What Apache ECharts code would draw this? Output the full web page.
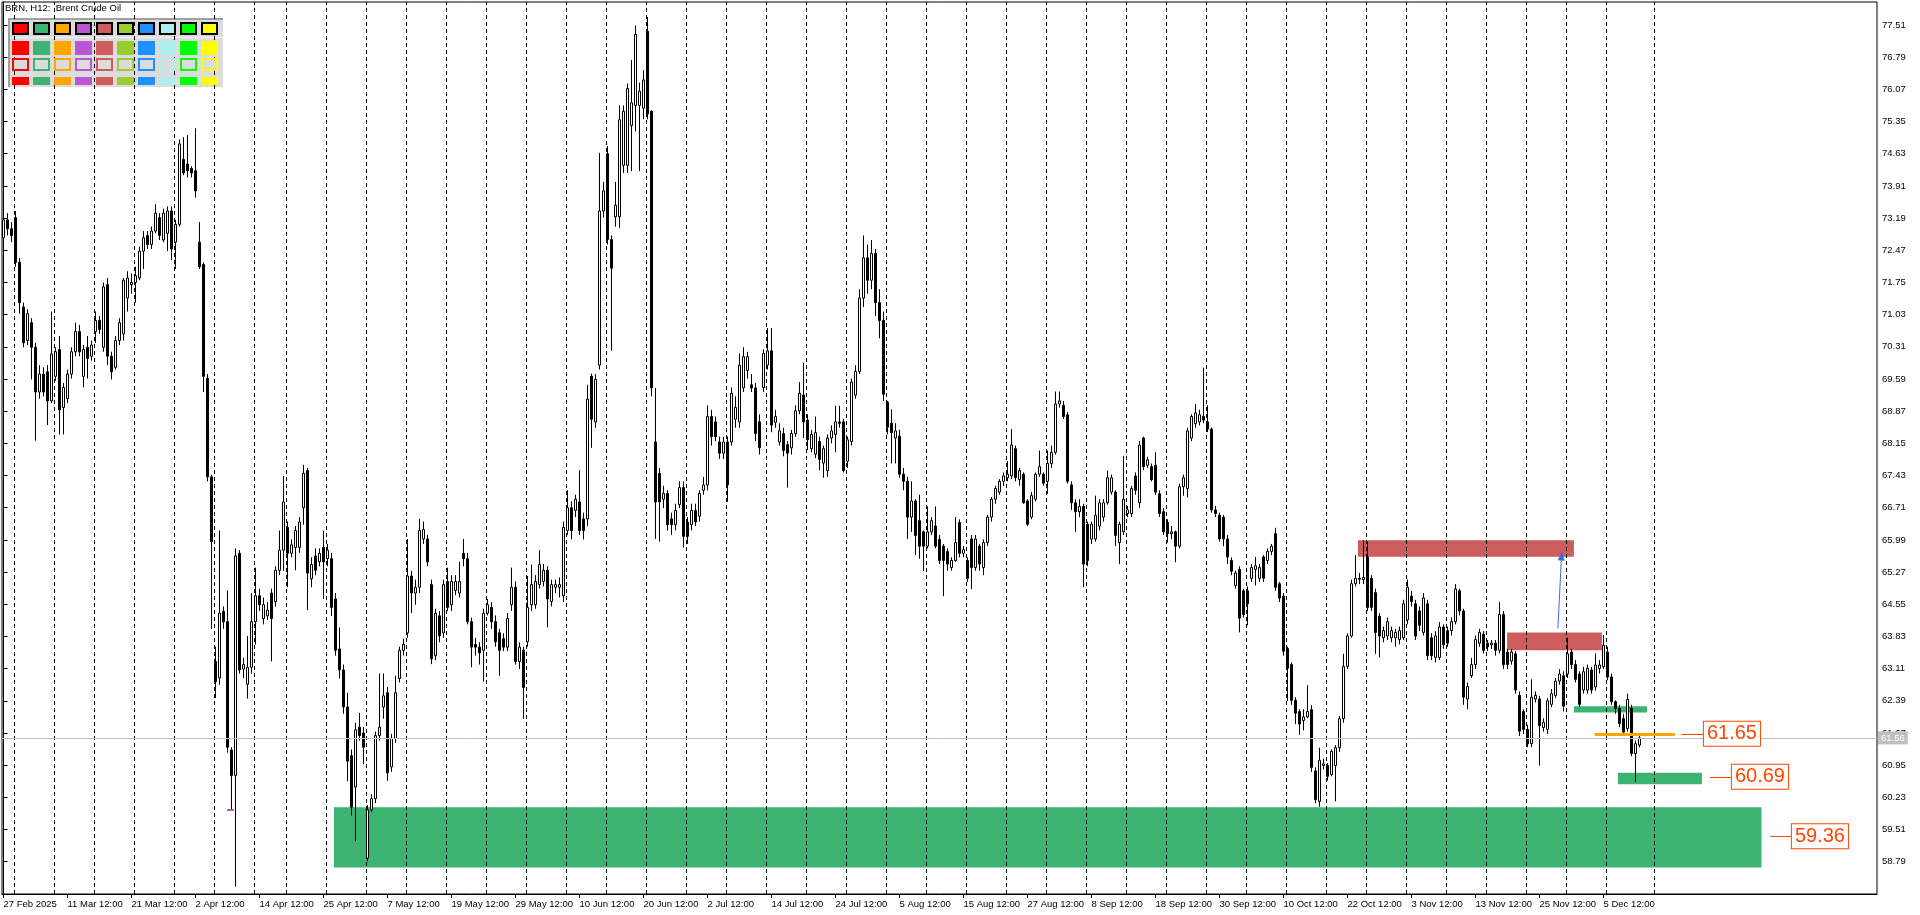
<!DOCTYPE html>
<html><head><meta charset="utf-8">
<script src="https://cdn.jsdelivr.net/npm/echarts@6/dist/echarts.min.js"></script>
<style>html,body{margin:0;padding:0;background:#fff}#c{width:1920px;height:915px}</style>
</head><body><div id="c"></div>
<script>
// Brent Crude Oil, H12 — one row per bar: [open, close, low, high]
const candles = [
[72.75,73.15,72.60,73.30],[73.15,72.95,72.80,73.30],[72.95,72.80,72.65,73.10],[73.20,72.20,72.10,73.35],[72.20,71.30,71.05,72.30],
[71.20,70.40,70.30,71.30],[70.45,71.05,70.35,71.15],[70.85,70.30,69.58,70.95],[70.30,69.30,68.21,70.40],[69.30,69.70,69.15,69.90],
[69.70,69.30,69.20,69.85],[69.75,69.10,68.56,69.90],[69.10,70.15,69.05,71.10],[69.65,70.20,69.55,70.30],[70.25,68.90,68.35,70.55],
[68.95,69.40,68.35,69.50],[69.15,69.70,69.05,69.80],[69.70,70.20,69.60,70.30],[70.20,70.65,70.10,70.85],[70.65,70.20,70.10,70.80],
[69.65,70.25,69.40,70.35],[70.30,70.05,69.60,70.55],[70.10,70.35,70.00,70.45],[70.65,70.90,70.40,71.10],[70.90,70.70,70.60,71.00],
[70.30,71.65,70.20,71.75],[71.70,70.10,69.90,71.85],[70.10,69.75,69.58,70.20],[69.85,70.45,69.80,70.55],[70.45,70.85,70.35,70.95],
[70.60,71.80,70.45,71.85],[71.40,71.85,71.10,72.00],[71.70,71.75,71.50,71.95],[71.75,71.90,71.30,72.10],[71.85,72.45,71.80,72.55],
[72.45,72.75,72.05,72.90],[72.80,72.60,72.50,72.90],[72.60,72.90,72.50,73.00],[72.90,73.30,72.85,73.50],[73.20,72.80,72.70,73.30],
[72.70,73.30,72.65,73.40],[72.85,73.35,72.45,73.45],[73.35,72.50,72.25,73.45],[72.65,73.05,72.05,73.15],[73.05,74.85,73.00,74.95],
[74.50,74.20,74.15,75.00],[74.40,74.25,74.10,75.05],[74.30,74.20,74.10,74.35],[74.25,73.80,73.65,75.20],[72.65,72.10,72.05,73.10],
[72.15,69.65,69.30,72.20],[69.60,67.40,67.30,69.70],[67.40,65.95,64.00,67.45],[63.27,62.82,62.45,63.60],[62.90,64.35,62.75,66.20],
[64.39,64.16,64.00,64.50],[64.16,61.35,61.23,64.86],[61.29,60.72,59.95,61.35],[60.72,65.63,58.23,65.80],[65.69,63.08,63.00,65.76],
[63.10,63.20,62.90,63.35],[62.76,63.14,62.44,63.84],[63.14,64.16,63.00,64.80],[64.16,64.74,63.65,65.37],[64.74,64.54,64.40,64.90],
[64.23,64.54,64.10,64.70],[64.29,64.42,64.20,64.60],[64.80,64.23,63.27,64.90],[64.61,65.31,64.50,65.40],[65.31,65.76,65.20,66.20],
[65.76,66.84,65.30,67.42],[66.27,65.69,64.93,66.40],[65.69,65.88,65.60,66.00],[65.82,66.20,65.31,66.30],[65.82,66.39,65.70,66.50],
[66.71,67.48,66.33,67.67],[67.54,65.25,64.42,67.60],[65.12,65.44,64.93,65.60],[65.63,65.31,65.20,65.80],[65.50,65.69,65.40,65.80],
[65.82,65.50,64.67,66.20],[65.57,65.76,65.40,65.90],[65.57,64.48,64.29,65.70],[64.67,63.52,63.40,64.80],[63.55,63.08,62.89,64.03],
[63.08,62.25,62.10,63.20],[62.25,61.04,60.59,62.57],[61.16,60.01,59.82,61.30],[60.46,61.74,59.25,61.90],[61.80,61.61,61.50,62.12],
[61.67,61.35,60.97,61.80],[58.87,59.95,58.80,60.05],[59.95,60.20,59.90,60.30],[60.20,61.61,60.10,61.70],[61.61,61.80,61.50,63.00],
[62.25,62.50,61.99,63.00],[62.57,60.78,60.60,62.70],[60.91,61.55,60.80,61.65],[61.55,62.57,61.45,62.95],[62.89,63.52,62.80,63.60],
[63.52,63.65,63.40,63.78],[63.91,65.18,63.80,66.01],[65.18,64.80,64.35,65.30],[64.80,64.93,64.54,65.10],[64.93,66.20,64.80,66.46],
[66.01,66.22,65.90,66.40],[66.01,65.50,65.40,66.10],[64.99,63.33,63.21,65.10],[63.40,64.35,63.30,64.45],[64.29,63.84,63.70,64.40],
[63.91,64.99,63.80,65.10],[65.06,64.48,64.40,65.37],[64.54,65.06,64.40,65.20],[64.86,65.06,64.75,65.20],[64.80,65.06,64.70,65.50],
[65.69,65.57,65.40,66.01],[65.57,64.16,64.10,65.70],[64.16,63.59,63.14,64.25],[63.65,63.59,63.40,63.80],[63.59,63.46,63.20,63.70],
[63.52,64.35,62.82,64.45],[64.35,64.54,64.30,64.67],[64.48,64.16,64.00,64.60],[64.16,63.71,63.60,64.30],[63.91,63.52,62.95,64.00],
[63.78,63.59,63.50,63.90],[63.59,64.23,63.50,64.35],[64.54,64.93,64.40,65.37],[64.93,63.27,63.20,65.06],[63.27,63.59,63.10,63.70],
[63.52,62.69,61.99,63.60],[63.71,64.48,63.60,65.18],[64.54,64.99,64.40,65.44],[64.54,65.06,64.45,65.20],[64.99,65.44,64.90,65.76],
[65.06,65.31,64.95,65.45],[65.31,64.67,64.03,65.40],[64.61,64.99,64.50,65.10],[64.93,64.99,64.80,65.10],[64.93,64.99,64.70,65.15],
[64.74,66.27,64.60,66.40],[66.20,66.71,66.10,67.10],[66.71,66.20,66.00,66.85],[66.65,66.90,66.50,67.00],[66.84,66.20,66.10,67.55],
[66.46,66.20,66.00,66.60],[66.46,69.14,66.30,69.46],[69.65,68.69,68.05,69.71],[68.63,69.58,68.50,69.70],[69.90,73.35,69.80,74.65],
[73.35,73.80,73.20,74.00],[74.63,72.71,72.60,74.80],[72.71,72.07,70.22,72.80],[73.22,73.48,73.00,74.00],[73.22,75.39,72.97,75.71],
[74.37,75.58,74.20,75.71],[74.37,76.09,74.20,76.20],[75.26,75.77,74.24,76.73],[75.71,77.30,75.13,77.50],[75.71,76.03,74.24,76.22],
[75.65,76.28,75.40,76.50],[77.37,75.52,75.40,77.69],[75.58,69.39,69.20,75.60],[68.18,66.84,66.01,69.39],[67.48,66.84,65.95,67.60],
[66.90,67.03,66.70,67.20],[67.03,66.33,66.20,67.10],[66.46,66.33,66.10,66.60],[66.33,66.65,66.20,66.80],[66.78,67.16,66.70,67.30],
[67.16,66.07,65.82,67.30],[66.39,66.07,65.90,66.50],[66.33,66.65,66.20,66.80],[66.65,66.39,66.30,66.80],[66.52,67.03,66.40,67.10],
[67.10,67.22,67.00,67.40],[67.22,68.75,67.10,69.00],[68.75,68.30,68.10,68.90],[68.63,68.30,68.20,68.75],[68.18,67.93,67.80,68.30],
[67.93,68.18,67.80,68.30],[68.18,67.22,66.84,68.30],[68.18,69.27,68.10,69.40],[68.69,68.95,68.50,69.20],[68.63,69.90,68.50,70.16],
[69.39,70.09,69.30,70.30],[69.78,70.09,69.60,70.20],[69.46,69.39,69.30,69.70],[69.39,68.37,68.20,69.50],[68.63,68.05,67.90,68.80],
[69.40,70.16,69.30,70.25],[69.90,70.22,69.80,70.73],[70.22,68.56,68.40,70.73],[68.62,68.75,68.50,68.90],[68.18,68.43,68.10,68.60],
[68.37,67.99,67.86,68.50],[68.12,67.93,67.16,68.20],[68.05,68.37,67.90,68.45],[68.37,68.88,68.30,69.00],[68.88,69.27,68.80,69.52],
[69.23,68.63,68.27,69.96],[68.67,68.23,68.00,68.80],[68.03,68.35,67.95,68.45],[67.91,68.39,67.82,68.75],[68.19,67.79,67.55,68.30],
[67.71,68.03,67.38,68.10],[67.54,68.27,67.40,68.35],[68.27,68.43,68.15,68.55],[68.35,68.63,67.95,68.99],[68.63,68.60,68.50,68.99],
[68.63,67.54,67.50,68.70],[67.75,68.23,67.60,68.30],[68.19,69.52,68.10,69.60],[69.23,69.76,69.15,69.90],[69.76,71.40,69.70,71.60],
[71.40,72.30,71.20,72.80],[72.30,71.80,71.50,72.60],[71.80,72.40,71.60,72.70],[72.40,71.30,71.00,72.50],[71.30,70.90,70.50,71.60],
[70.90,69.25,69.10,71.10],[69.07,68.51,68.35,69.10],[68.60,68.39,67.70,68.91],[68.27,68.43,67.70,68.60],[68.31,67.46,67.38,68.45],
[67.46,67.30,67.10,67.60],[67.30,66.50,66.01,67.40],[66.50,66.86,66.17,67.30],[66.86,66.09,65.65,66.90],[66.42,65.85,65.57,67.00],
[66.17,65.85,65.29,66.20],[65.85,66.17,65.80,66.74],[66.17,66.42,66.10,66.50],[66.30,65.85,65.80,66.74],[66.00,65.53,65.45,66.10],
[65.85,65.53,64.73,65.90],[65.73,65.45,65.30,65.80],[65.37,65.53,65.30,65.60],[65.53,65.93,65.50,66.50],[66.38,65.69,65.60,66.45],
[65.69,65.77,65.60,65.85],[65.53,65.13,65.05,65.60],[66.01,65.37,64.89,66.10],[65.37,66.01,65.30,66.10],[65.85,65.45,65.30,65.90],
[65.37,65.93,65.20,66.00],[65.93,66.50,65.85,66.55],[66.50,66.90,66.40,66.95],[66.90,67.14,66.80,67.20],[67.06,67.30,67.00,67.35],
[67.30,67.42,67.20,67.50],[67.38,67.46,67.30,67.75],[67.42,68.11,67.35,68.47],[68.03,67.38,67.30,68.10],[67.34,67.54,67.20,67.60],
[67.46,66.82,66.80,67.50],[66.86,66.34,66.30,66.90],[66.50,66.98,66.45,67.06],[66.90,67.46,66.85,67.50],[67.46,67.63,67.40,67.99],
[67.46,67.26,67.20,67.50],[67.30,67.70,67.02,67.99],[67.70,67.95,67.60,68.10],[67.95,69.03,67.90,69.31],[69.03,69.10,68.95,69.31],
[69.00,68.75,68.70,69.10],[68.79,67.30,67.25,68.85],[67.22,66.82,66.66,67.30],[66.82,66.62,66.17,66.90],[66.62,66.74,66.50,66.90],
[66.74,65.45,64.93,66.80],[66.34,65.53,65.40,66.40],[66.01,66.34,65.90,66.40],[66.01,66.54,65.95,66.98],[66.30,66.82,66.20,66.90],
[66.50,66.82,66.40,66.90],[66.82,67.38,66.78,67.54],[67.06,67.38,67.00,67.45],[67.06,66.09,65.85,67.10],[65.93,66.34,65.45,66.40],
[66.17,66.90,66.10,67.87],[66.58,66.66,66.50,66.75],[66.58,67.14,66.50,67.20],[67.42,67.10,67.00,67.50],[66.82,68.11,66.70,68.20],
[68.27,67.63,67.55,68.30],[67.66,67.78,67.60,67.85],[67.63,67.34,67.30,67.70],[67.66,67.06,67.00,67.95],[67.02,66.58,66.50,67.10],
[66.62,66.17,66.10,66.70],[66.38,66.13,65.93,66.45],[66.13,66.17,66.00,66.30],[66.17,65.85,65.49,66.20],[65.85,67.18,65.80,67.25],
[67.18,67.38,66.98,67.45],[67.14,68.43,66.94,68.50],[68.27,68.75,68.20,68.80],[68.59,68.83,68.50,69.03],[68.63,68.79,68.55,68.90],
[68.75,68.67,68.60,69.84],[68.63,68.47,68.40,69.00],[68.47,66.66,66.60,68.50],[66.66,66.58,66.50,66.75],[66.54,66.01,65.95,66.60],
[66.50,66.01,65.85,66.55],[66.01,65.61,65.45,66.10],[65.53,65.29,65.20,65.60],[64.97,65.25,64.90,65.30],[65.33,64.24,63.92,65.40],
[64.85,64.32,64.25,64.90],[64.85,64.56,64.08,64.95],[65.13,65.37,65.05,65.45],[65.33,65.41,64.97,65.61],[65.13,65.37,65.05,65.45],
[65.61,65.13,65.05,65.65],[65.53,65.73,65.45,65.80],[65.73,65.85,65.65,65.90],[66.13,64.93,64.85,66.26],[65.01,64.69,64.60,65.05],
[64.73,63.50,63.40,64.80],[63.56,63.12,62.39,63.60],[63.20,62.40,62.30,63.25],[62.40,62.11,61.87,62.47],[62.15,61.87,61.63,62.20],
[61.95,62.03,61.73,62.20],[62.03,62.15,62.00,62.74],[62.19,60.90,60.80,62.29],[60.82,60.18,60.10,60.90],[60.14,61.06,60.02,61.34],
[60.94,60.98,60.85,61.10],[60.94,60.70,60.60,61.00],[60.74,61.26,60.70,61.30],[60.94,61.34,60.14,61.40],[61.34,61.99,61.25,62.05],
[61.99,63.16,61.90,63.44],[63.16,63.84,63.10,63.90],[63.84,65.01,63.80,65.10],[65.01,65.13,64.95,65.65],[65.13,65.11,65.00,65.25],
[65.10,65.15,65.00,65.98],[65.61,64.48,64.40,65.95],[65.13,64.48,64.40,65.20],[64.81,63.92,63.44,64.90],[64.28,63.84,63.36,64.35],
[63.80,63.96,63.70,64.05],[63.84,64.16,63.75,64.25],[63.80,63.96,63.70,64.05],[63.80,63.92,63.60,64.00],[63.76,63.96,63.65,64.05],
[63.80,64.56,63.75,64.65],[64.20,64.93,64.10,65.10],[64.73,64.61,64.50,64.85],[64.56,63.84,63.75,64.65],[64.40,64.08,63.95,64.50],
[63.92,64.69,63.85,64.80],[64.56,63.40,63.30,64.65],[63.80,63.40,63.30,63.90],[63.36,63.84,63.25,63.95],[63.36,64.04,63.30,64.15],
[64.04,63.64,63.55,64.10],[63.96,63.68,63.60,64.05],[63.96,64.16,63.85,64.25],[64.16,64.89,64.10,65.00],[64.85,64.40,64.30,64.90],
[64.40,62.47,62.30,64.45],[62.43,62.71,62.20,62.80],[62.95,63.20,62.90,63.35],[63.20,63.76,63.10,63.85],[63.68,63.92,63.60,64.00],
[63.88,63.52,63.45,63.95],[63.68,63.60,63.50,63.75],[63.64,63.68,63.55,63.75],[63.68,63.52,63.40,63.75],[63.52,64.32,63.45,64.60],
[64.32,63.20,63.10,64.40],[63.48,63.20,63.10,63.55],[63.28,63.48,63.20,63.55],[63.44,62.63,62.55,63.50],[62.51,61.71,61.60,62.60],
[62.15,61.75,61.65,62.20],[61.75,61.43,61.35,61.85],[61.43,62.47,61.35,62.87],[62.43,62.51,62.35,62.60],[62.43,61.83,60.94,62.50],
[61.79,61.91,61.70,62.00],[61.75,62.39,61.65,62.45],[62.31,62.55,62.25,62.65],[62.51,62.83,62.45,62.90],[62.83,62.99,62.75,63.10],
[62.95,62.27,62.15,63.05],[62.99,63.44,62.90,63.80],[63.48,63.20,63.10,63.55],[63.20,62.87,62.80,63.30],[62.99,62.31,62.25,63.05],
[62.63,63.04,62.55,63.15],[62.63,63.12,62.55,63.20],[63.08,62.63,62.55,63.15],[62.70,63.19,62.62,63.45],[63.11,63.19,63.00,63.30],
[63.15,63.63,63.10,63.86],[63.48,62.92,62.85,63.60],[62.92,62.37,62.30,63.00],[62.37,62.22,62.10,62.40],[62.22,61.88,61.80,62.30],
[61.99,61.69,61.60,62.10],[61.77,62.42,61.70,62.55],[62.22,61.21,61.15,62.30],[61.21,61.43,60.57,61.50],[61.40,61.56,61.35,61.65]
];

const priceTicks = [77.51,76.79,76.07,75.35,74.63,73.91,73.19,72.47,71.75,71.03,70.31,69.59,68.87,68.15,67.43,66.71,65.99,65.27,64.55,63.83,63.11,62.39,61.67,60.95,60.23,59.51,58.79];
const xTickBars = [0,16,32,48,64,80,96,112,128,144,160,176,192,208,224,240,256,272,288,304,320,336,352,368,384,400];
const xTickLabels = ['27 Feb 2025','11 Mar 12:00','21 Mar 12:00','2 Apr 12:00','14 Apr 12:00','25 Apr 12:00','7 May 12:00','19 May 12:00','29 May 12:00','10 Jun 12:00','20 Jun 12:00','2 Jul 12:00','14 Jul 12:00','24 Jul 12:00','5 Aug 12:00','15 Aug 12:00','27 Aug 12:00','8 Sep 12:00','18 Sep 12:00','30 Sep 12:00','10 Oct 12:00','22 Oct 12:00','3 Nov 12:00','13 Nov 12:00','25 Nov 12:00','5 Dec 12:00'];
// bars that open a new week (Monday 00:00), plus the next one in the empty future area
const weekStartBars = [3,13,23,33,43,53,63,71,81,91,101,111,121,131,141,151,161,171,181,191,201,211,221,231,241,251,261,271,281,291,301,311,321,331,341,351,361,371,381,391,401,413];

// zones: [fromBar, toBar, lowPrice, highPrice]
const demandZones = [[82.6,439.5,58.66,60.01],[403.6,424.6,60.52,60.78],[392.6,410.9,62.13,62.27]];
const supplyZones = [[338.6,392.6,65.61,65.98],[375.9,399.6,63.52,63.92]];
// price tags: [price, fromBar, toBar]
const priceTags = [[59.36,441.75,447.1],[60.69,426.6,432.1],[61.65,419.5,425.1]];
const orangeLevel = [61.65,397.8,417.85];
const arrowPath = [[388.6,64.01],[389.5,65.63]];
const pivotMark = [59.95,55.9,57.6];
const lastPrice = 61.56;
const paletteColors = ['#FF0000','#3CB371','#FFA500','#BA55D3','#CD5C5C','#9ACD32','#1E90FF','#AFEEEE','#00FF00','#FFFF00'];

const FONT = 'Liberation Sans';
const chart = echarts.init(document.getElementById('c'), null, {renderer: 'canvas'});

const candleData = candles.map((d, i) => [i, d[0], d[1], d[2], d[3]]);

const graphics = [];
graphics.push({type:'rect', z:0, shape:{x:8,y:18,width:215,height:69}, style:{fill:'#DCDCDC'}});
graphics.push({type:'rect', z:0, shape:{x:8,y:18,width:215,height:2}, style:{fill:'#A0A0A0'}});
graphics.push({type:'rect', z:0, shape:{x:8,y:18,width:2,height:69}, style:{fill:'#A0A0A0'}});
graphics.push({type:'rect', z:0, shape:{x:10,y:37,width:212,height:1}, style:{fill:'#F4F4F4'}});
paletteColors.forEach((c, k) => {
  const x = 12 + 21 * k;
  graphics.push({type:'rect', z:10, shape:{x:x+1,y:23,width:15,height:11}, style:{fill:c, stroke:'#000', lineWidth:2}});
  graphics.push({type:'rect', z:10, shape:{x:x,y:41,width:17,height:14}, style:{fill:c}});
  graphics.push({type:'rect', z:10, shape:{x:x+1,y:59,width:15,height:11}, style:{fill:'#DCDCDC', stroke:c, lineWidth:2}});
  graphics.push({type:'rect', z:10, shape:{x:x,y:77,width:17,height:8}, style:{fill:c}});
});
graphics.push({type:'text', z:0, x:5, y:3, style:{text:'BRN, H12:  Brent Crude Oil', fill:'#000', font:'9.5px "' + FONT + '"'}});

const option = {
  animation: false,
  backgroundColor: '#fff',
  grid: {left: 2, right: 43, top: 2, bottom: 21, show: true, borderColor: '#000', borderWidth: 1, backgroundColor: '#fff', containLabel: false, outerBoundsMode: 'none'},
  xAxis: [{
    type: 'value', min: -0.375, max: 468.375, position: 'bottom',
    axisLine: {show: true, lineStyle: {color: '#000', width: 1}},
    axisTick: {show: true, inside: false, length: 4, lineStyle: {color: '#000'}, customValues: xTickBars},
    axisLabel: {show: true, customValues: xTickBars, align: 'left', margin: 5, color: '#000', fontSize: 9.5, fontFamily: FONT,
      formatter: v => xTickLabels[xTickBars.indexOf(Math.round(v))] || ''},
    splitLine: {show: false}
  }],
  yAxis: [{
    type: 'value', min: 58.067, max: 78.025, position: 'right',
    axisLine: {show: true, lineStyle: {color: '#000', width: 1}},
    axisTick: {show: true, inside: false, length: 4, lineStyle: {color: '#000'}, customValues: priceTicks},
    axisLabel: {show: true, customValues: priceTicks, margin: 5, color: '#000', fontSize: 9.5, fontFamily: FONT, formatter: v => v.toFixed(2)},
    splitLine: {show: false}
  }],
  graphic: graphics,
  series: [
    { // zones (background objects)
      type: 'line', data: [], z: 1, silent: true,
      markArea: {silent: true, data: [
        ...demandZones.map(z => [{coord: [z[0], z[2]], itemStyle: {color: '#3CB371', opacity: 1}}, {coord: [z[1], z[3]]}]),
        ...supplyZones.map(z => [{coord: [z[0], z[2]], itemStyle: {color: '#CD5C5C', opacity: 1}}, {coord: [z[1], z[3]]}])
      ]}
    },
    { // week separators
      type: 'line', data: [], z: 2, silent: true,
      markLine: {silent: true, symbol: ['none','none'], animation: false,
        label: {show: false},
        lineStyle: {color: '#000', width: 1, type: [4, 3]},
        data: weekStartBars.map(b => ({xAxis: b - 0.25}))
      }
    },
    { // last price line
      type: 'line', data: [], z: 2, silent: true,
      markLine: {silent: true, symbol: ['none','none'], animation: false,
        data: [{yAxis: lastPrice, lineStyle: {color: '#C0C0C0', width: 1, type: 'solid'},
          label: {show: true, position: 'end', distance: 1, formatter: lastPrice.toFixed(2), color: '#fff', backgroundColor: '#C0C0C0', padding: [2, 3, 1, 3], fontSize: 9.5, fontFamily: FONT}}]
      }
    },
    {
      type: 'candlestick', name: 'BRN', z: 3, data: candleData, barWidth: 2,
      encode: {x: 0, y: [1, 2, 3, 4]},
      itemStyle: {color: '#fff', color0: '#000', borderColor: '#000', borderColor0: '#000', borderColorDoji: '#000', borderWidth: 1}
    },
    { // levels, price tags, arrow
      type: 'line', data: [], z: 5, silent: true,
      markLine: {silent: true, symbol: ['none','none'], animation: false,
        data: [
          [{coord: [orangeLevel[1], orangeLevel[0]], lineStyle: {color: '#FFA500', width: 3, type: 'solid'}, label: {show: false}}, {coord: [orangeLevel[2], orangeLevel[0]]}],
          [{coord: [pivotMark[1], pivotMark[0]], lineStyle: {color: '#BA55D3', width: 2, type: 'solid'}, label: {show: false}}, {coord: [pivotMark[2], pivotMark[0]]}],
          ...priceTags.map(t => [
            {coord: [t[1], t[0]], lineStyle: {color: '#FF4500', width: 1, type: 'solid'},
              label: {show: true, position: 'end', distance: 0, formatter: t[0].toFixed(2), color: '#FF4500', fontSize: 20, lineHeight: 21, fontFamily: FONT,
                borderColor: '#FF4500', borderWidth: 1, backgroundColor: '#fff', padding: [2, 3, 1, 3]}},
            {coord: [t[2], t[0]]}
          ]),
          [{coord: arrowPath[0], symbol: 'none', lineStyle: {color: '#4169E1', width: 1, type: 'solid'}, label: {show: false}},
           {coord: arrowPath[1], symbol: 'triangle', symbolSize: [7, 9]}]
        ]
      }
    }
  ]
};
chart.setOption(option);
</script>
</body></html>
